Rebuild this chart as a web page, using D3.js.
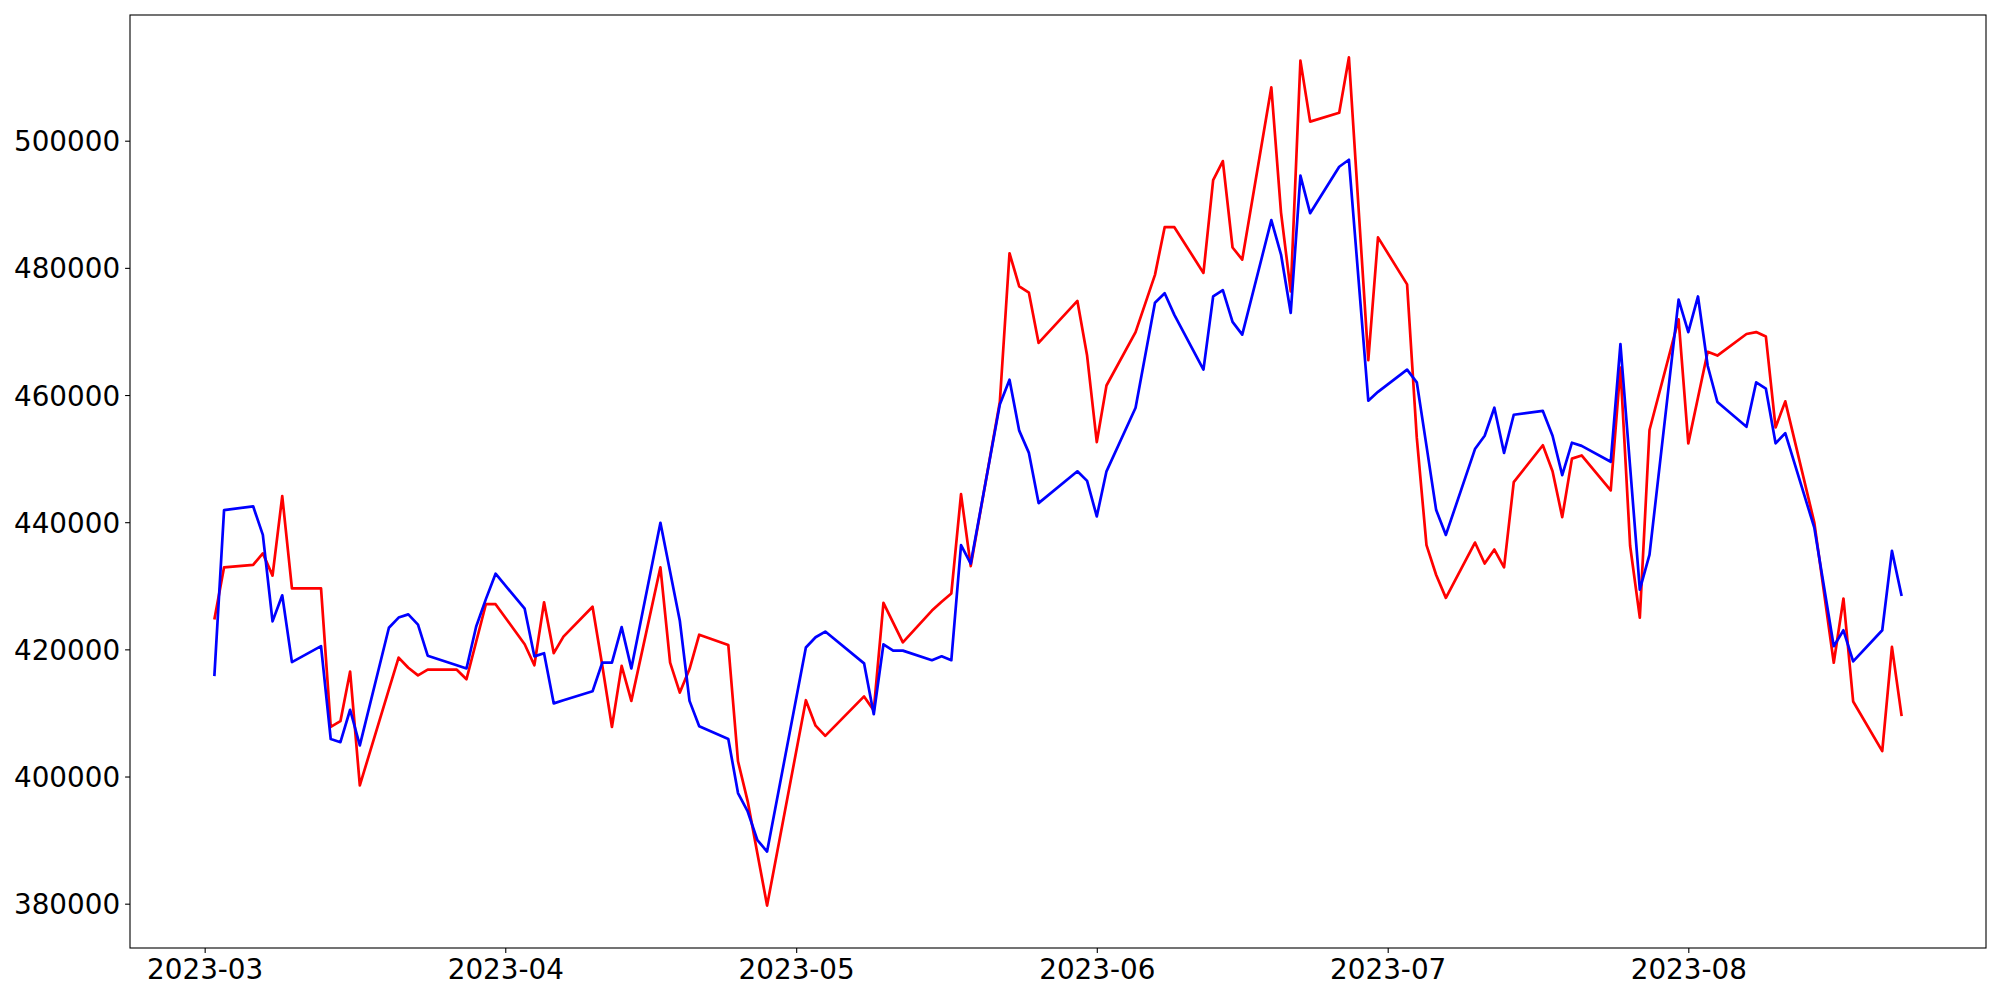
<!DOCTYPE html>
<html>
<head>
<meta charset="utf-8">
<script src="https://cdn.jsdelivr.net/npm/d3@7.9.0/dist/d3.min.js"></script>
<style>
  html, body { margin: 0; padding: 0; background: #fff; }
  svg { display: block; }
  .tick text { font-family: "DejaVu Sans", sans-serif; font-size: 27.8px; fill: #000; }
</style>
</head>
<body>
<svg id="chart" width="2000" height="1000"></svg>
<script>
// ---------- Data ----------
const dates = [
  "2023-03-02","2023-03-03","2023-03-06","2023-03-07","2023-03-08","2023-03-09","2023-03-10",
  "2023-03-13","2023-03-14","2023-03-15","2023-03-16","2023-03-17",
  "2023-03-20","2023-03-21","2023-03-22","2023-03-23","2023-03-24",
  "2023-03-27","2023-03-28","2023-03-29","2023-03-30","2023-03-31",
  "2023-04-03","2023-04-04","2023-04-05","2023-04-06","2023-04-07",
  "2023-04-10","2023-04-11","2023-04-12","2023-04-13","2023-04-14",
  "2023-04-17","2023-04-18","2023-04-19","2023-04-20","2023-04-21",
  "2023-04-24","2023-04-25","2023-04-26","2023-04-27","2023-04-28",
  "2023-05-02","2023-05-03","2023-05-04",
  "2023-05-08","2023-05-09","2023-05-10","2023-05-11","2023-05-12",
  "2023-05-15","2023-05-16","2023-05-17","2023-05-18","2023-05-19",
  "2023-05-22","2023-05-23","2023-05-24","2023-05-25","2023-05-26",
  "2023-05-30","2023-05-31","2023-06-01","2023-06-02",
  "2023-06-05","2023-06-07","2023-06-08","2023-06-09",
  "2023-06-12","2023-06-13","2023-06-14","2023-06-15","2023-06-16",
  "2023-06-19","2023-06-20","2023-06-21","2023-06-22","2023-06-23",
  "2023-06-26","2023-06-27","2023-06-29","2023-06-30",
  "2023-07-03","2023-07-04","2023-07-05","2023-07-06","2023-07-07",
  "2023-07-10","2023-07-11","2023-07-12","2023-07-13","2023-07-14",
  "2023-07-17","2023-07-18","2023-07-19","2023-07-20","2023-07-21",
  "2023-07-24","2023-07-25","2023-07-26","2023-07-27","2023-07-28",
  "2023-07-31","2023-08-01","2023-08-02","2023-08-03","2023-08-04",
  "2023-08-07","2023-08-08","2023-08-09","2023-08-10","2023-08-11",
  "2023-08-14","2023-08-16","2023-08-17","2023-08-18",
  "2023-08-21","2023-08-22","2023-08-23"
];

const redValues = [
  424700,432900,433300,435100,431600,444100,429600,
  429600,407800,408700,416500,398600,
  413700,418700,417100,415900,416800,
  416800,415300,421200,427100,427100,
  420800,417500,427400,419400,422000,
  426700,417500,407800,417400,411900,
  432900,417900,413200,416900,422300,
  420700,402400,396100,387900,379700,
  412000,408000,406400,
  412600,410400,427300,424200,421100,
  426100,427500,428800,444400,433100,
  458900,482300,477100,476100,468200,
  474800,466200,452600,461500,
  469900,478900,486400,486400,
  479200,493800,496800,483200,481300,
  508400,488700,476300,512600,503000,
  504400,513100,465500,484800,
  477400,453300,436400,431700,428100,
  436800,433500,435700,432900,446300,
  452100,448000,440800,450000,450500,
  445000,464300,436300,425000,454500,
  471900,452400,459600,466800,466200,
  469600,469900,469200,454900,459000,
  439900,417900,428000,411800,
  404000,420400,409500
];

const blueValues = [
  415800,441900,442500,438000,424400,428500,418000,
  420500,405900,405400,410500,404900,
  423400,425000,425500,423900,419000,
  417500,417000,423600,427900,431900,
  426400,418900,419400,411500,412000,
  413400,417900,417900,423500,417000,
  439900,432200,424500,411900,407900,
  405900,397400,394500,390000,388200,
  420300,421900,422800,
  417800,409800,420800,419800,419800,
  418300,418900,418300,436400,433500,
  458500,462400,454400,450900,443000,
  448000,446500,440900,448000,
  458000,474500,476000,472600,
  464000,475500,476500,471500,469500,
  487500,482100,472900,494500,488600,
  495900,497000,459100,460500,
  464000,462000,452000,441900,438000,
  451500,453600,458000,450900,456900,
  457500,453600,447400,452500,452000,
  449500,468000,448700,429400,434900,
  475000,469900,475500,464600,458900,
  455000,462000,461000,452400,454000,
  439100,420500,423000,418100,
  423000,435500,428400
];

const yTickValues = [380000, 400000, 420000, 440000, 460000, 480000, 500000];

// ---------- Layout ----------
const width = 2000, height = 1000;
const margin = { left: 130, right: 14, top: 15, bottom: 52 };
const innerW = width - margin.left - margin.right;
const innerH = height - margin.top - margin.bottom;

const parse = d3.utcParse("%Y-%m-%d");
const t = dates.map(parse);

// matplotlib-like 5% autoscale margins
const [tMin, tMax] = d3.extent(t);
const tPad = (tMax - tMin) * 0.05;
const allVals = redValues.concat(blueValues);
const [vMin, vMax] = d3.extent(allVals);
const vPad = (vMax - vMin) * 0.05;

const x = d3.scaleUtc()
  .domain([new Date(+tMin - tPad), new Date(+tMax + tPad)])
  .range([0, innerW]);

const y = d3.scaleLinear()
  .domain([vMin - vPad, vMax + vPad])
  .range([innerH, 0]);

const svg = d3.select("#chart");
const g = svg.append("g").attr("transform", `translate(${margin.left},${margin.top})`);

// ---------- Lines ----------
const line = d3.line()
  .x((d, i) => x(t[i]))
  .y(d => y(d));

g.append("path")
  .datum(redValues)
  .attr("fill", "none")
  .attr("stroke", "#ff0000")
  .attr("stroke-width", 2.7)
  .attr("stroke-linejoin", "round")
  .attr("d", line);

g.append("path")
  .datum(blueValues)
  .attr("fill", "none")
  .attr("stroke", "#0000ff")
  .attr("stroke-width", 2.7)
  .attr("stroke-linejoin", "round")
  .attr("d", line);

// ---------- Axes ----------
const xAxis = d3.axisBottom(x)
  .ticks(d3.utcMonth.every(1))
  .tickFormat(d3.utcFormat("%Y-%m"))
  .tickSize(4.9)
  .tickPadding(7);

const yAxis = d3.axisLeft(y)
  .tickValues(yTickValues)
  .tickFormat(d3.format("d"))
  .tickSize(4.9)
  .tickPadding(5);

const gx = g.append("g")
  .attr("transform", `translate(0,${innerH})`)
  .call(xAxis);
gx.select(".domain").remove();
gx.selectAll(".tick line").attr("stroke", "#000").attr("stroke-width", 1.1);
gx.selectAll(".tick text").attr("dy", "0.69em");

const gy = g.append("g").call(yAxis);
gy.select(".domain").remove();
gy.selectAll(".tick line").attr("stroke", "#000").attr("stroke-width", 1.1);
gy.selectAll(".tick text").attr("dy", "0.36em");

// frame
g.append("rect")
  .attr("x", 0).attr("y", 0)
  .attr("width", innerW).attr("height", innerH)
  .attr("fill", "none")
  .attr("stroke", "#000")
  .attr("stroke-width", 1.1);
</script>
</body>
</html>
